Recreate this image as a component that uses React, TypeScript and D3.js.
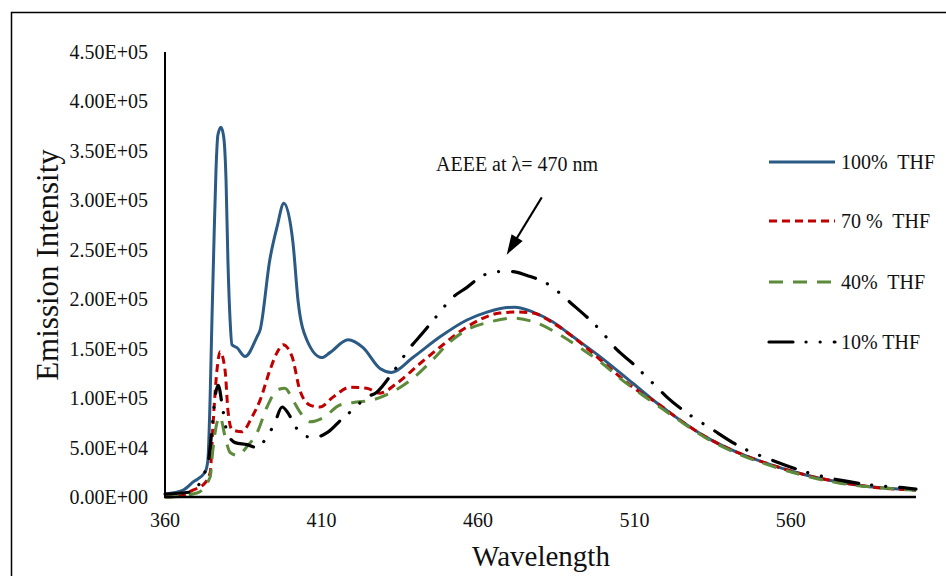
import React, { useEffect, useRef } from 'react';
import * as d3 from 'd3';

// wavelength (nm) / emission intensity (x1000)
const wl100 = [360, 365.8, 368.9, 372.8, 373.7, 374.4, 375.0, 375.7, 376.3, 376.9, 377.9, 378.8, 379.5, 380.1, 380.8, 381.4, 383.0, 385.6, 389.4, 390.4, 393.5, 395.8, 398.0, 400.9, 402.5, 405.3, 410.1, 412.7, 418.5, 423.3, 428.7, 432.4, 439.2, 447.9, 456.5, 462.9, 471.8, 477.6, 484.0, 490.4, 499.0, 509.5, 517.2, 524.5, 533.2, 543.7, 554.2, 565.1, 575.7, 586.2, 600];
const int100 = [3, 7, 15, 25, 37, 98, 179, 265, 331, 366, 374, 363, 321, 240, 179, 154, 151, 142, 162, 169, 240, 273, 297, 257, 199, 159, 141, 146, 159, 151, 130, 126, 141, 162, 179, 187, 192, 187, 177, 162, 142, 115, 95, 78, 60, 44, 32, 22, 15, 10, 7];

const wl70 = [360, 364.8, 368.9, 372.1, 374.4, 375.3, 376.6, 377.6, 379.2, 380.1, 381.4, 384.6, 387.8, 390.4, 393.5, 395.8, 397.7, 400.6, 403.1, 406.3, 409.5, 413.7, 419.1, 424.5, 428.7, 434.1, 441.5, 446.9, 456.5, 467.0, 472.5, 477.6, 484.0, 491.6, 499.0, 509.5, 517.2, 524.5, 533.2, 543.7, 554.2, 565.1, 575.7, 586.2, 600];
const int70 = [0, 1, 7, 12, 24, 71, 128, 147, 128, 88, 68, 66, 81, 98, 128, 146, 154, 142, 108, 93, 91, 101, 111, 110, 105, 115, 135, 149, 172, 186, 187, 186, 176, 159, 139, 111, 95, 78, 60, 44, 32, 22, 15, 10, 7];

const wl40 = [360, 361.6, 370.2, 374.4, 375.3, 376.6, 377.6, 379.2, 380.8, 383.3, 386.2, 389.4, 392.6, 395.8, 398.3, 400.9, 403.1, 406.3, 410.5, 415.9, 421.3, 426.1, 431.9, 439.2, 445.6, 451.1, 456.5, 463.8, 471.2, 478.8, 486.2, 492.6, 499.0, 505.4, 511.8, 518.1, 524.5, 533.2, 543.7, 554.2, 565.1, 575.7, 586.2, 600];
const int40 = [0, 0, 4, 20, 48, 75, 81, 61, 45, 42, 51, 65, 91, 108, 110, 98, 86, 76, 80, 93, 96, 98, 105, 120, 139, 157, 169, 177, 181, 176, 164, 151, 137, 120, 105, 91, 77, 59, 43, 31, 21, 14, 10, 7];

const wl10 = [360, 368.0, 373.7, 375.0, 376.0, 377.0, 378.5, 379.8, 382.4, 386.2, 389.4, 392.6, 395.1, 397.4, 399.3, 400.9, 403.1, 407.3, 411.8, 416.9, 420.7, 423.9, 427.7, 432.8, 438.3, 442.4, 446.3, 452.0, 456.5, 461.6, 467.0, 471.2, 475.7, 482.0, 486.2, 489.4, 494.8, 499.0, 504.4, 509.5, 514.0, 517.2, 520.4, 527.7, 534.1, 543.7, 554.2, 565.1, 575.7, 586.2, 597.1, 600];
const int10 = [3, 5, 34, 68, 101, 113, 88, 66, 55, 53, 50, 61, 75, 91, 85, 76, 65, 60, 65, 80, 90, 100, 106, 126, 151, 166, 181, 202, 212, 224, 228, 228, 224, 216, 206, 197, 182, 169, 149, 135, 121, 111, 101, 83, 70, 51, 37, 25, 17, 12, 9, 8];

const seriesNames = ['100%  THF', '70 %  THF', '40%  THF', '10% THF'];
const xTicks = [360, 410, 460, 510, 560];
const yTicks = [0, 50, 100, 150, 200, 250, 300, 350, 400, 450];

const FONT = '"Liberation Serif", "Times New Roman", serif';

const fmtExp = (v: number) => {
    const [m, e] = (v * 1000).toExponential(2).split('e');
    const sign = e[0] === '-' ? '-' : '+';
    const digits = e.replace(/[+-]/, '').padStart(2, '0');
    return `${m}E${sign}${digits}`;
};

const App = () => {
    const chartRef = useRef<SVGSVGElement>(null);

    useEffect(() => {
        const width = 946;
        const height = 576;
        const svg = d3.select(chartRef.current);
        svg.selectAll('*').remove();

        const x = d3.scaleLinear().domain([360, 600]).range([165, 916]);
        const y = d3.scaleLinear().domain([0, 450]).range([497, 52]);

        // outer frame (runs off the right and bottom edges)
        svg.append('rect')
            .attr('x', 11.5)
            .attr('y', 12.5)
            .attr('width', 1000)
            .attr('height', 1000)
            .attr('fill', 'none')
            .attr('stroke', '#000')
            .attr('stroke-width', 1.5);

        const series = [
            { name: seriesNames[0], wl: wl100, v: int100, color: '#2B5A84', dash: null, w: 3, cap: 'butt' },
            { name: seriesNames[1], wl: wl70, v: int70, color: '#C00000', dash: '8,5', w: 3, cap: 'butt' },
            { name: seriesNames[2], wl: wl40, v: int40, color: '#5B8B3B', dash: '14,10', w: 3, cap: 'butt' },
            { name: seriesNames[3], wl: wl10, v: int10, color: '#000000', dash: '24,13,0.1,14,0.1,14', w: 3.2, cap: 'round' },
        ];

        const line = d3.line<[number, number]>()
            .x(d => x(d[0]))
            .y(d => y(d[1]))
            .curve(d3.curveMonotoneX);

        series.forEach(s => {
            const pts = s.wl.map((w, i) => [w, s.v[i]] as [number, number]);
            svg.append('path')
                .datum(pts)
                .attr('fill', 'none')
                .attr('stroke', s.color)
                .attr('stroke-width', s.w)
                .attr('stroke-linecap', s.cap)
                .attr('stroke-linejoin', 'round')
                .attr('stroke-dasharray', s.dash)
                .attr('d', line);
        });

        // axes lines
        svg.append('line')
            .attr('x1', x(360)).attr('x2', x(360))
            .attr('y1', y(450)).attr('y2', y(0))
            .attr('stroke', '#000').attr('stroke-width', 2);
        svg.append('line')
            .attr('x1', x(360) - 1).attr('x2', x(600))
            .attr('y1', y(0)).attr('y2', y(0))
            .attr('stroke', '#000').attr('stroke-width', 2.5);

        svg.selectAll('.ytick')
            .data(yTicks)
            .enter().append('text')
            .attr('class', 'ytick')
            .attr('x', 148)
            .attr('y', d => y(d))
            .attr('dy', '0.35em')
            .attr('text-anchor', 'end')
            .style('font-family', FONT)
            .style('font-size', '20px')
            .style('fill', '#111')
            .text(d => fmtExp(d));

        svg.selectAll('.xtick')
            .data(xTicks)
            .enter().append('text')
            .attr('class', 'xtick')
            .attr('x', d => x(d))
            .attr('y', 527)
            .attr('text-anchor', 'middle')
            .style('font-family', FONT)
            .style('font-size', '20px')
            .style('fill', '#111')
            .text(d => d);

        svg.append('text')
            .attr('x', 541)
            .attr('y', 566)
            .attr('text-anchor', 'middle')
            .style('font-family', FONT)
            .style('font-size', '29px')
            .style('fill', '#111')
            .text('Wavelength');

        svg.append('text')
            .attr('transform', `translate(58, 265) rotate(-90)`)
            .attr('text-anchor', 'middle')
            .style('font-family', FONT)
            .style('font-size', '31px')
            .style('fill', '#111')
            .text('Emission Intensity');

        // annotation
        svg.append('text')
            .attr('x', x(472.5))
            .attr('y', 171)
            .attr('text-anchor', 'middle')
            .style('font-family', FONT)
            .style('font-size', '20px')
            .style('fill', '#111')
            .text('AEEE at λ= 470 nm');

        const sx = x(480.4), sy = y(303);
        const tx = x(469.2), ty = y(245);
        const len = Math.hypot(tx - sx, ty - sy);
        const ux = (tx - sx) / len, uy = (ty - sy) / len;
        const hl = 20, hw = 6.5;
        const bx = tx - ux * hl, by = ty - uy * hl;
        svg.append('line')
            .attr('x1', sx).attr('y1', sy)
            .attr('x2', bx + ux * 2).attr('y2', by + uy * 2)
            .attr('stroke', '#000').attr('stroke-width', 2);
        svg.append('polygon')
            .attr('points', [
                [tx, ty],
                [bx - uy * hw, by + ux * hw],
                [bx + uy * hw, by - ux * hw],
            ].map(p => p.join(',')).join(' '))
            .attr('fill', '#000');

        // legend
        const legendY = [162, 221, 282, 342];
        const lg = svg.selectAll('.legend')
            .data(series)
            .enter().append('g')
            .attr('class', 'legend')
            .attr('transform', (d, i) => `translate(0, ${legendY[i]})`);
        lg.append('line')
            .attr('x1', 769).attr('x2', 835)
            .attr('y1', 0).attr('y2', 0)
            .attr('stroke', d => d.color)
            .attr('stroke-width', d => d.w)
            .attr('stroke-linecap', d => d.cap)
            .attr('stroke-dasharray', d => d.dash);
        lg.append('text')
            .attr('x', 841)
            .attr('y', 7)
            .style('font-family', FONT)
            .style('font-size', '20px')
            .style('white-space', 'pre')
            .style('fill', '#111')
            .text(d => d.name);

        svg.attr('width', width).attr('height', height);
    }, []);

    return (
        <svg
            ref={chartRef}
            width={946}
            height={576}
            style={{ position: 'absolute', left: 0, top: 0, background: '#fff' }}
        />
    );
};

export default App;
